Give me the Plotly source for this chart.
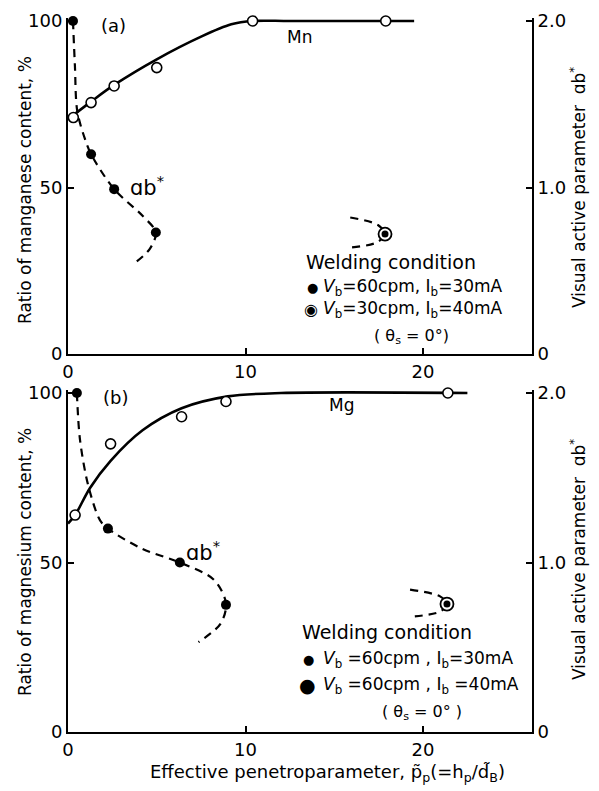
import plotly.graph_objects as go

# page body has an 8px margin, so the figure is made 8px smaller and all
# reference pixel positions are shifted by that offset
OFF = 8
W, H = 599 - OFF, 791 - OFF
FONT = "DejaVu Sans"

# ---------------- data: panel (a) ----------------
mn_pts_x = [0.3, 1.3, 2.6, 5.0, 10.4, 17.9]
mn_pts_y = [71, 75.5, 80.5, 86, 100, 100]
mn_curve_x = [0, 1.3, 2.6, 5.0, 7.5, 9.2, 10.4, 12.5, 19.5]
mn_curve_y = [70.5, 75.8, 80.8, 88.5, 95.3, 99.0, 100, 100, 100]

ab_a_pts_x = [0.28, 1.3, 2.6, 4.95]
ab_a_pts_y = [2.0, 1.2, 0.99, 0.73]
ab_a_curve_x = [0.28, 0.39, 0.52, 0.96, 1.3, 2.6, 4.2, 4.95, 4.6, 3.8]
ab_a_curve_y = [2.0, 1.73, 1.46, 1.29, 1.2, 0.99, 0.83, 0.73, 0.63, 0.55]

ab_a2_pts_x = [17.86]
ab_a2_pts_y = [0.72]
ab_a2_curve_x = [15.9, 17.46, 17.86, 17.4, 16.0]
ab_a2_curve_y = [0.82, 0.775, 0.72, 0.67, 0.64]

# ---------------- data: panel (b) ----------------
mg_pts_x = [0.4, 2.4, 6.4, 8.9, 21.4]
mg_pts_y = [64, 85, 93, 97.5, 100]
mg_curve_x = [0, 0.4, 1.24, 2.4, 4.2, 6.4, 9.0, 12.0, 22.5]
mg_curve_y = [61.5, 64, 72, 80, 89, 95.5, 99, 100, 100]

ab_b_pts_x = [0.5, 2.25, 6.3, 8.9]
ab_b_pts_y = [2.0, 1.2, 1.0, 0.75]
ab_b_curve_x = [0.5, 0.68, 1.15, 1.8, 2.25, 4.2, 6.3, 8.2, 8.9, 8.6, 7.35]
ab_b_curve_y = [2.0, 1.72, 1.45, 1.25, 1.2, 1.08, 1.0, 0.9, 0.76, 0.64, 0.53]

ab_b2_pts_x = [21.35]
ab_b2_pts_y = [0.755]
ab_b2_curve_x = [19.27, 20.96, 21.35, 20.96, 19.27]
ab_b2_curve_y = [0.84, 0.80, 0.755, 0.71, 0.68]

x_ticks = [0, 10, 20]
pct_ticks = [0, 50, 100]
ab_ticks = [0, 1, 2]
ab_ticktext = ["0", "1.0", "2.0"]

PCT_TOP = 101.0          # a little headroom so lines at 100 % are not clipped
AB_TOP = PCT_TOP / 50.0


def px(x):
    return (x - OFF) / W


def py(y):
    return 1 - (y - OFF) / H


fig = go.Figure()


def add_panel(xa, ya, ya2, cx, cy, px_, py_, acx, acy, apx, apy, a2cx, a2cy, a2px, a2py):
    fig.add_trace(go.Scatter(x=cx, y=cy, mode="lines", xaxis=xa, yaxis=ya,
                             line=dict(color="black", width=2.6, shape="spline", smoothing=0.9),
                             cliponaxis=False, hoverinfo="skip"))
    fig.add_trace(go.Scatter(x=acx, y=acy, mode="lines", xaxis=xa, yaxis=ya2,
                             line=dict(color="black", width=2.2, dash="8px,6px", shape="spline", smoothing=0.9),
                             cliponaxis=False, hoverinfo="skip"))
    fig.add_trace(go.Scatter(x=a2cx, y=a2cy, mode="lines", xaxis=xa, yaxis=ya2,
                             line=dict(color="black", width=2.2, dash="8px,6px", shape="spline", smoothing=0.9),
                             cliponaxis=False, hoverinfo="skip"))
    fig.add_trace(go.Scatter(x=px_, y=py_, mode="markers", xaxis=xa, yaxis=ya,
                             marker=dict(symbol="circle", size=10, color="white",
                                         line=dict(color="black", width=1.6)),
                             cliponaxis=False, hoverinfo="skip"))
    fig.add_trace(go.Scatter(x=apx, y=apy, mode="markers", xaxis=xa, yaxis=ya2,
                             marker=dict(symbol="circle", size=10, color="black"),
                             cliponaxis=False, hoverinfo="skip"))
    fig.add_trace(go.Scatter(x=a2px, y=a2py, mode="markers", xaxis=xa, yaxis=ya2,
                             marker=dict(symbol="circle", size=13, color="white",
                                         line=dict(color="black", width=1.8)),
                             cliponaxis=False, hoverinfo="skip"))
    fig.add_trace(go.Scatter(x=a2px, y=a2py, mode="markers", xaxis=xa, yaxis=ya2,
                             marker=dict(symbol="circle", size=7, color="black"),
                             cliponaxis=False, hoverinfo="skip"))


add_panel("x", "y", "y2", mn_curve_x, mn_curve_y, mn_pts_x, mn_pts_y,
          ab_a_curve_x, ab_a_curve_y, ab_a_pts_x, ab_a_pts_y,
          ab_a2_curve_x, ab_a2_curve_y, ab_a2_pts_x, ab_a2_pts_y)
add_panel("x2", "y3", "y4", mg_curve_x, mg_curve_y, mg_pts_x, mg_pts_y,
          ab_b_curve_x, ab_b_curve_y, ab_b_pts_x, ab_b_pts_y,
          ab_b2_curve_x, ab_b2_curve_y, ab_b2_pts_x, ab_b2_pts_y)

tickfont = dict(family=FONT, size=18, color="black")
common = dict(showline=True, linecolor="black", linewidth=2, ticks="inside", ticklen=6,
              tickwidth=1.5, tickcolor="black", showgrid=False, zeroline=False,
              tickfont=tickfont, fixedrange=True, automargin=False)
xdom = [px(68), px(532)]
a_bot, a_top100 = 354, 21
b_bot, b_top100 = 732, 393
a_top = a_bot - (a_bot - a_top100) * PCT_TOP / 100
b_top = b_bot - (b_bot - b_top100) * PCT_TOP / 100
dom_a = [py(a_bot), py(a_top)]
dom_b = [py(b_bot), py(b_top)]

fig.update_layout(
    width=W, height=H, margin=dict(l=0, r=0, t=0, b=0, pad=0), autosize=False,
    paper_bgcolor="white", plot_bgcolor="white", showlegend=False,
    font=dict(family=FONT, color="black"),
    xaxis=dict(domain=xdom, range=[0, 26.14], anchor="y", tickvals=x_ticks, **common),
    yaxis=dict(domain=dom_a, range=[0, PCT_TOP], anchor="x", tickvals=pct_ticks, **common),
    yaxis2=dict(overlaying="y", side="right", range=[0, AB_TOP], anchor="x",
                tickvals=ab_ticks, ticktext=ab_ticktext, **common),
    xaxis2=dict(domain=xdom, range=[0, 26.14], anchor="y3", tickvals=x_ticks, **common),
    yaxis3=dict(domain=dom_b, range=[0, PCT_TOP], anchor="x2", tickvals=pct_ticks, **common),
    yaxis4=dict(overlaying="y3", side="right", range=[0, AB_TOP], anchor="x2",
                tickvals=ab_ticks, ticktext=ab_ticktext, **common),
)

ann = []


def txt(text, x, y, size=16, xanchor="left", angle=0):
    ann.append(dict(text=text, x=px(x), y=py(y), xref="paper", yref="paper",
                    xanchor=xanchor, yanchor="middle", showarrow=False, textangle=angle,
                    font=dict(family=FONT, size=size, color="black")))


# panel labels
txt("(a)", 99, 25, 18)
txt("(b)", 101, 397, 18)
txt("Mn", 285, 37, 17)
txt("Mg", 327, 405, 17)
txt("ɑb<sup>*</sup>", 128, 186, 21)
txt("ɑb<sup>*</sup>", 184, 551, 21)

# axis titles
txt("Ratio of manganese content, %", 25, 190, 17, "center", -90)
txt("Ratio of magnesium content, %", 25, 562, 17, "center", -90)
txt("Visual active parameter  ɑb<sup>*</sup>", 578, 188, 17, "center", -90)
txt("Visual active parameter  ɑb<sup>*</sup>", 578, 560, 17, "center", -90)
txt("Effective penetroparameter, p̃<sub>p</sub>(=h<sub>p</sub>/d̃<sub>B</sub>)", 327, 773, 18, "center")

# legend (a)
txt("Welding condition", 304, 262, 19)
txt("●", 305, 287, 13)
txt("<i>V</i><sub>b</sub>=60cpm, I<sub>b</sub>=30mA", 321, 287, 17)
txt("◉", 302, 309, 16)
txt("<i>V</i><sub>b</sub>=30cpm, I<sub>b</sub>=40mA", 321, 309, 17)
txt("( θ<sub>s</sub> = 0°)", 411, 336, 16, "center")

# legend (b)
txt("Welding condition", 300, 632, 19)
txt("●", 301, 659, 13)
txt("<i>V</i><sub>b</sub> =60cpm , I<sub>b</sub>=30mA", 321, 659, 17)
txt("●", 297, 685, 19)
txt("<i>V</i><sub>b</sub> =60cpm , I<sub>b</sub> =40mA", 321, 685, 17)
txt("( θ<sub>s</sub> = 0° )", 422, 712, 16, "center")

fig.update_layout(annotations=ann)
fig.write_html("out.html")
